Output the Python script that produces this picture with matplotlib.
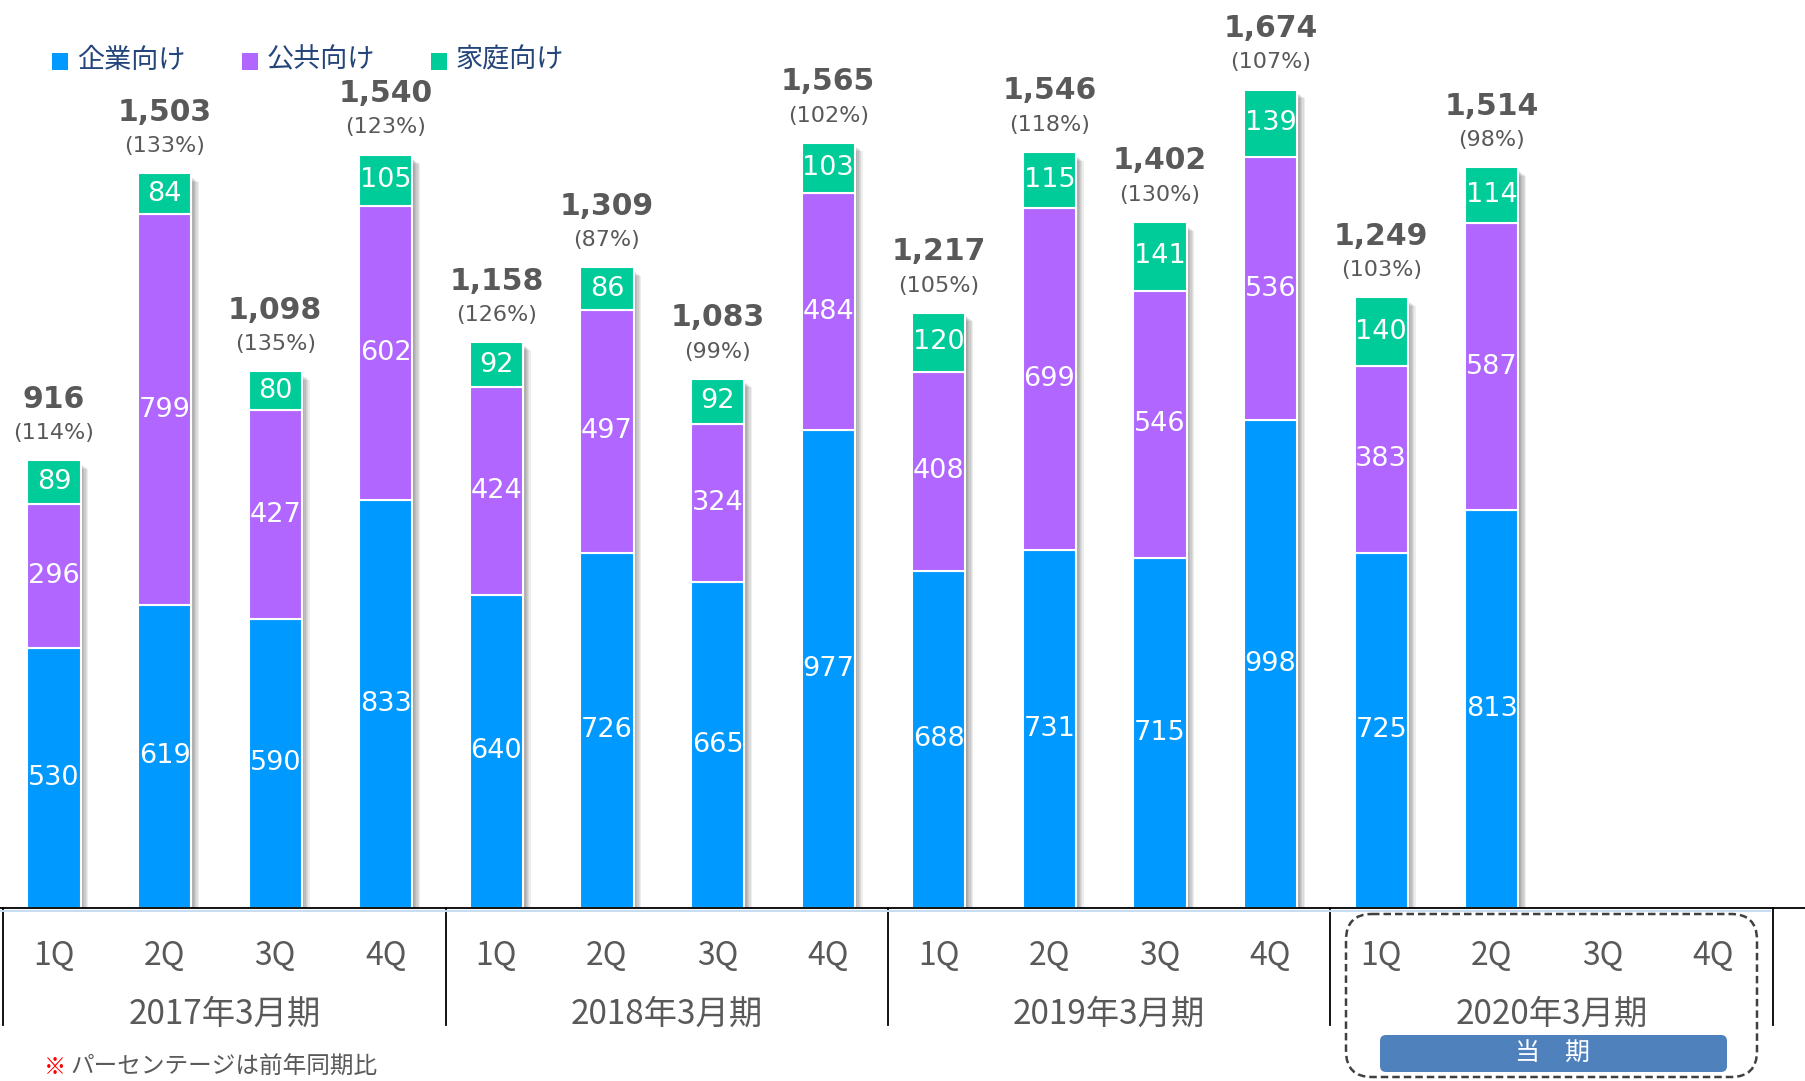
import matplotlib.pyplot as plt
from matplotlib.patches import FancyBboxPatch, Rectangle
from matplotlib.transforms import blended_transform_factory

# quarterly sales (stacked), 2017/3 - 2020/3
quarters = ["1Q", "2Q", "3Q", "4Q"] * 4
fiscal_years = ["2017年3月期", "2018年3月期", "2019年3月期", "2020年3月期"]
series_names = ["企業向け", "公共向け", "家庭向け"]
corporate = [530, 619, 590, 833, 640, 726, 665, 977, 688, 731, 715, 998, 725, 813]
public = [296, 799, 427, 602, 424, 497, 324, 484, 408, 699, 546, 536, 383, 587]
household = [89, 84, 80, 105, 92, 86, 92, 103, 120, 115, 141, 139, 140, 114]
totals = [916, 1503, 1098, 1540, 1158, 1309, 1083, 1565, 1217, 1546, 1402, 1674, 1249, 1514]
yoy_pct = [114, 133, 135, 123, 126, 87, 99, 102, 105, 118, 130, 107, 103, 98]

colors = ["#0099FF", "#B066FF", "#00CC99"]
gray = "#595959"
jp = ["Noto Sans CJK JP", "DejaVu Sans"]

W, H = 1806, 1081
base_px = 907.6       # baseline, pixels from top
px_per_unit = 0.489
step = 110.6          # pixels per quarter
x0 = 54               # first bar centre

fig = plt.figure(figsize=(W / 100, H / 100), dpi=100)
ax = fig.add_axes([0, (H - base_px) / H, 1, base_px / H])
ax.set_ylim(0, base_px / px_per_unit)
ax.set_xlim(-x0 / step, (W - x0) / step)
ax.axis("off")

ov = fig.add_axes([0, 0, 1, 1])
ov.set_xlim(0, W)
ov.set_ylim(H, 0)
ov.axis("off")
ov.patch.set_visible(False)

xy_tr = blended_transform_factory(ax.transData, ov.transData)

n = len(totals)
xs = list(range(n))
width = 0.48

# soft shadow on the right of each bar
for k in range(1, 7):
    ax.bar([x + k * 1.3 / step for x in xs],
           [t - (3 + k) / px_per_unit for t in totals],
           width, color="black", alpha=0.07, linewidth=0, zorder=1)

bottoms = [0] * n
for vals, col in zip([corporate, public, household], colors):
    ax.bar(xs, vals, width, bottom=bottoms, color=col,
           edgecolor="white", linewidth=1.5, zorder=2)
    for x, v, b in zip(xs, vals, bottoms):
        ax.text(x, b + v / 2, str(v), ha="center", va="center",
                color="white", fontsize=19.5, family="DejaVu Sans", zorder=3)
    bottoms = [b + v for b, v in zip(bottoms, vals)]

for x, top, t, p in zip(xs, bottoms, totals, yoy_pct):
    ax.annotate(f"{t:,}", xy=(x, top), xytext=(0, 44), textcoords="offset points",
                ha="center", va="center", fontsize=21.5, fontweight="bold",
                color=gray, family="DejaVu Sans")
    ax.annotate(f"({p}%)", xy=(x, top), xytext=(0, 19.5), textcoords="offset points",
                ha="center", va="center", fontsize=16, color=gray,
                family="DejaVu Sans")

# category axis
ov.plot([0, W], [base_px, base_px], color="black", lw=1.3, zorder=5)
ov.plot([0, 1770], [base_px + 3, base_px + 3], color="#C9DDF2", lw=1.5, zorder=4)

for i, q in enumerate(quarters):
    ov.text(i, 956, q, transform=xy_tr, ha="center", va="center",
            fontsize=23, color=gray, family=jp)

for g, fy in enumerate(fiscal_years):
    ov.text(4 * g + 1.54, 1014, fy, transform=xy_tr, ha="center", va="center",
            fontsize=24, color=gray, family=jp)

for g in range(5):
    xd = 4 * g - 0.46
    ov.plot([xd, xd], [base_px, 1025], transform=xy_tr, color="black", lw=1.3)

# current period frame
ov.add_patch(FancyBboxPatch((1346, 914), 411, 163,
                            boxstyle="round,pad=0,rounding_size=26",
                            fill=False, edgecolor="#404040", lw=1.8,
                            linestyle=(0, (3, 1.6)), clip_on=False))
ov.add_patch(FancyBboxPatch((1380, 1035), 347, 37,
                            boxstyle="round,pad=0,rounding_size=6",
                            facecolor="#4F81BD", edgecolor="none"))
ov.text(1553, 1054, "当　期", ha="center", va="center", color="white",
        fontsize=18, family=jp)

# legend
for lx, name, col in zip([52, 242, 431], series_names, colors):
    ov.add_patch(Rectangle((lx, 53), 16, 17, facecolor=col, edgecolor="none"))
    ov.text(lx + 25, 60, name, ha="left", va="center", fontsize=19.5,
            color="#24457A", family=jp)

# footnote
ov.text(44, 1067, "※", ha="left", va="center", fontsize=16, color="#FF0000", family=jp)
ov.text(70, 1067, "パーセンテージは前年同期比", ha="left", va="center",
        fontsize=17, color=gray, family=jp)

fig.savefig("out.png", dpi=100)
